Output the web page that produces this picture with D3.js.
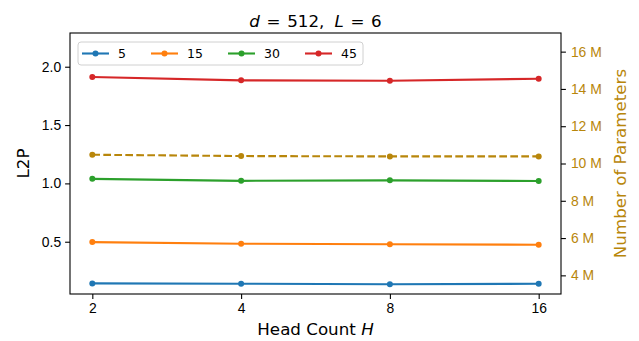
<!DOCTYPE html>
<html>
<head>
<meta charset="utf-8">
<script src="https://cdn.jsdelivr.net/npm/d3@7"></script>
<style>
body{margin:0;background:#fff;}
svg{font-family:"DejaVu Sans",sans-serif;}
</style>
</head>
<body>
<svg id="drawing_region"></svg>
<script>
// head counts on the x axis
const heads = [2, 4, 8, 16]
// L2P series, one per legend entry
const seriesNames = ["5", "15", "30", "45"]
const seriesColors = ["#1f77b4", "#ff7f0e", "#2ca02c", "#d62728"]
const l2p5 = [0.143, 0.140, 0.135, 0.140]
const l2p15 = [0.497, 0.483, 0.478, 0.474]
const l2p30 = [1.039, 1.022, 1.026, 1.020]
const l2p45 = [1.912, 1.883, 1.880, 1.897]
// parameter count (right axis)
const params = [10.47e6, 10.40e6, 10.38e6, 10.38e6]
const leftTicks = [0.5, 1.0, 1.5, 2.0]
const rightTicks = [4e6, 6e6, 8e6, 10e6, 12e6, 14e6, 16e6]

const paramColor = "#b8860b"
const config = {
    width:639,
    height:341,
    margin:{top:33,right:78,bottom:47,left:70}
}
const inner_width = config.width-config.margin.left-config.margin.right
const inner_height = config.height-config.margin.top-config.margin.bottom

const svg = d3.select("#drawing_region")
    .attr("width",config.width)
    .attr("height",config.height)

const chart = svg.append("g")
    .attr("transform",`translate(${config.margin.left},${config.margin.top})`)

// log2 x scale with 5% padding like matplotlib
const pad = 0.15
const xscale = d3.scaleLog().base(2)
    .domain([Math.pow(2,1-pad),Math.pow(2,4+pad)])
    .range([0,inner_width])
const yscale = d3.scaleLinear()
    .domain([0.052,2.289])
    .range([inner_height,0])
const y2scale = d3.scaleLinear()
    .domain([3e6,17e6])
    .range([inner_height,0])

const tickLen = 4.9
const xaxis = d3.axisBottom(xscale).tickValues(heads).tickFormat(d3.format("d")).tickSizeOuter(0).tickSize(tickLen).tickPadding(4)
const yaxis = d3.axisLeft(yscale).tickValues(leftTicks).tickFormat(d3.format(".1f")).tickSizeOuter(0).tickSize(tickLen).tickPadding(4)
const y2axis = d3.axisRight(y2scale).tickValues(rightTicks).tickFormat(d=>(d/1e6)+" M").tickSizeOuter(0).tickSize(tickLen).tickPadding(5)

const gx = chart.append("g").attr("transform",`translate(0,${inner_height})`).call(xaxis)
const gy = chart.append("g").call(yaxis)
const gy2 = chart.append("g").attr("transform",`translate(${inner_width},0)`).call(y2axis)
;[gx,gy,gy2].forEach(g=>{
    g.select(".domain").remove()
    g.selectAll("line").attr("stroke","#000").attr("stroke-width",1.1)
    g.selectAll("text").attr("font-size","13.9px").attr("fill","#000")
})
gy2.selectAll("text").attr("fill",paramColor)

// lines
const line = d3.line()
    .x(d=>xscale(d.x))
    .y(d=>yscale(d.y))
const allSeries = [l2p5,l2p15,l2p30,l2p45]
allSeries.forEach((vals,i)=>{
    const pts = vals.map((v,j)=>({x:heads[j],y:v}))
    chart.append("path")
        .datum(pts)
        .attr("d",line)
        .attr("fill","none")
        .attr("stroke",seriesColors[i])
        .attr("stroke-width",2.1)
    chart.selectAll(null)
        .data(pts)
        .enter()
        .append("circle")
        .attr("cx",d=>xscale(d.x))
        .attr("cy",d=>yscale(d.y))
        .attr("r",3)
        .attr("fill",seriesColors[i])
})

const pline = d3.line()
    .x(d=>xscale(d.x))
    .y(d=>y2scale(d.y))
const ppts = params.map((v,j)=>({x:heads[j],y:v}))
chart.append("path")
    .datum(ppts)
    .attr("d",pline)
    .attr("fill","none")
    .attr("stroke",paramColor)
    .attr("stroke-width",2.1)
    .attr("stroke-dasharray","7.7,3.3")
chart.selectAll(null)
    .data(ppts)
    .enter()
    .append("circle")
    .attr("cx",d=>xscale(d.x))
    .attr("cy",d=>y2scale(d.y))
    .attr("r",3)
    .attr("fill",paramColor)

// frame
chart.append("rect")
    .attr("width",inner_width)
    .attr("height",inner_height)
    .attr("fill","none")
    .attr("stroke","#000")
    .attr("stroke-width",1.1)

// legend
const legend = chart.append("g").attr("transform","translate(8,9)")
legend.append("rect")
    .attr("width",285)
    .attr("height",23)
    .attr("rx",3)
    .attr("fill","#fff")
    .attr("fill-opacity",0.8)
    .attr("stroke","#d0d0d0")
    .attr("stroke-width",1)
const legendX = [4,73,150,227]
seriesNames.forEach((n,i)=>{
    const g = legend.append("g").attr("transform",`translate(${legendX[i]},11.5)`)
    g.append("line").attr("x1",0).attr("x2",27).attr("stroke",seriesColors[i]).attr("stroke-width",2.1)
    g.append("circle").attr("cx",13.5).attr("r",3).attr("fill",seriesColors[i])
    g.append("text").attr("x",36).attr("dy","0.35em").attr("font-size","12.5px").text(n)
})

// title (math-style spacing around "=")
const title = svg.append("text")
    .attr("x",config.margin.left+inner_width/2)
    .attr("y",26.5)
    .attr("text-anchor","middle")
    .attr("font-size","16.7px")
title.append("tspan").attr("font-style","italic").text("d")
title.append("tspan").attr("dx","0.4em").text("=")
title.append("tspan").attr("dx","0.4em").text("512,")
title.append("tspan").attr("dx","0.6em").attr("font-style","italic").text("L")
title.append("tspan").attr("dx","0.4em").text("=")
title.append("tspan").attr("dx","0.4em").text("6")

// axis labels
const xl = svg.append("text")
    .attr("x",config.margin.left+inner_width/2)
    .attr("y",335)
    .attr("text-anchor","middle")
    .attr("font-size","16.7px")
xl.append("tspan").text("Head Count ")
xl.append("tspan").attr("font-style","italic").text("H")

svg.append("text")
    .attr("transform",`translate(29,${config.margin.top+inner_height/2}) rotate(-90)`)
    .attr("text-anchor","middle")
    .attr("font-size","16.7px")
    .text("L2P")

svg.append("text")
    .attr("transform",`translate(626,${config.margin.top+inner_height/2}) rotate(-90)`)
    .attr("text-anchor","middle")
    .attr("font-size","16.7px")
    .attr("fill",paramColor)
    .text("Number of Parameters")
</script>
</body>
</html>
